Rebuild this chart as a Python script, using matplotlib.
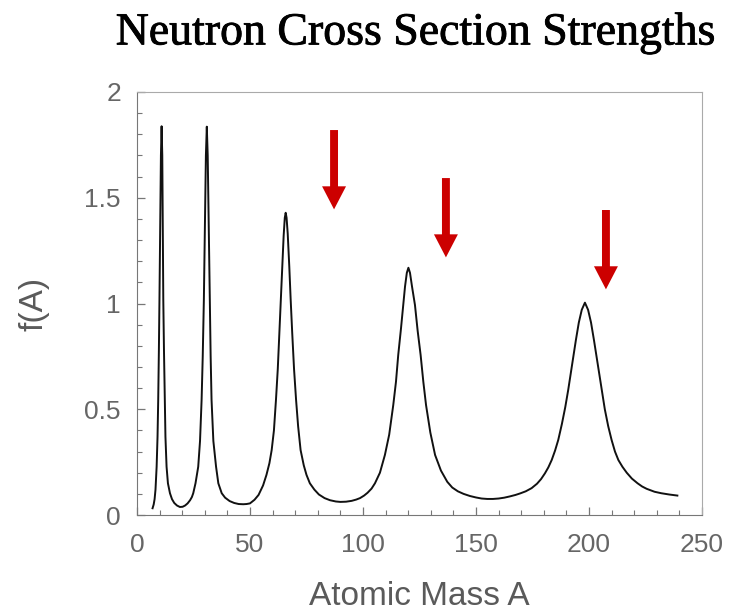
import matplotlib
matplotlib.use("Agg")
import matplotlib.pyplot as plt
import matplotlib.patheffects as pe
from matplotlib.ticker import MultipleLocator

# curve (atomic mass A, f(A))
mass = [6.9, 7.4, 7.8, 8.2, 8.7, 9.1, 9.4, 9.7, 9.95, 10.3, 10.6, 10.9, 11.2, 11.4, 11.65,
        11.95, 12.3, 12.6, 13.1, 13.7, 14.6, 15.5, 16.5, 17.7, 19.0, 20.2, 21.3, 22.4, 23.5,
        24.3, 24.9, 25.9, 27.1, 27.9, 28.6, 29.1, 29.6, 30.1, 30.5, 30.9, 31.3, 31.7, 32.2,
        32.6, 33.0, 33.8, 35.0, 36.0, 37.5, 39.0, 41.0, 43.0, 45.0, 47.0, 48.5, 50.0,
        52.0, 53.8, 55.8, 57.3, 58.6, 59.6, 60.6, 61.5, 62.3, 63.0, 63.7, 64.3, 64.9, 65.4,
        65.8, 66.2, 66.7, 67.4, 68.0, 68.7, 69.5, 70.4, 71.3, 72.4, 73.8, 75.0, 76.5, 78.5,
        80.5, 83.0, 85.4, 88.0, 90.0, 92.5, 95.0, 97.0, 98.7, 100.5, 102.0, 103.8, 105.3,
        107.5, 109.7, 111.6, 113.4, 114.6, 115.6, 116.8, 117.8, 118.6, 119.4, 120.1, 120.8,
        121.7, 123.0, 124.2, 125.5, 126.7, 127.9, 129.8, 131.9, 134.5, 137.3, 139.5, 142.0,
        144.5, 147.3, 150.0, 152.5, 155.0, 157.5, 160.0, 162.5, 165.0, 167.5, 169.5, 172.0,
        174.6, 177.0, 178.8, 180.5, 182.0, 183.5, 185.0, 186.4, 188.0, 189.5, 190.8, 192.5,
        194.2, 195.5, 196.8, 198.2, 199.6, 200.9, 202.2, 203.9, 205.6, 207.0, 208.5, 210.0,
        211.5, 213.0, 214.8, 216.7, 219.0, 221.5, 223.5, 225.5, 229.0, 232.0, 235.5, 239.1]
strength = [0.032, 0.05, 0.075, 0.12, 0.228, 0.37, 0.544, 0.78, 1.017, 1.40, 1.70, 1.838, 1.70, 1.40, 1.017,
            0.78, 0.544, 0.37, 0.228, 0.15, 0.103, 0.075, 0.057, 0.045, 0.038, 0.039, 0.045, 0.055, 0.07,
            0.085, 0.103, 0.15, 0.228, 0.35, 0.544, 0.75, 1.017, 1.40, 1.70, 1.836, 1.70, 1.40, 1.017,
            0.75, 0.544, 0.35, 0.228, 0.15, 0.103, 0.082, 0.066, 0.057, 0.052, 0.051, 0.052, 0.055,
            0.072, 0.095, 0.14, 0.19, 0.245, 0.307, 0.40, 0.544, 0.69, 0.859, 1.03, 1.174, 1.32, 1.405,
            1.429, 1.405, 1.33, 1.174, 1.02, 0.859, 0.69, 0.544, 0.42, 0.307, 0.235, 0.19, 0.150, 0.12,
            0.097, 0.080, 0.070, 0.064, 0.062, 0.063, 0.067, 0.073, 0.080, 0.092, 0.105, 0.125, 0.150,
            0.20, 0.284, 0.38, 0.52, 0.63, 0.757, 0.88, 0.993, 1.08, 1.145, 1.169, 1.145,
            1.08, 0.993, 0.87, 0.757, 0.63, 0.52, 0.39, 0.284, 0.21, 0.157, 0.13, 0.112,
            0.10, 0.090, 0.083, 0.078, 0.076, 0.076, 0.078, 0.082, 0.088, 0.095, 0.102, 0.112,
            0.127, 0.148, 0.17, 0.197, 0.225, 0.26, 0.305, 0.355, 0.43, 0.51, 0.591, 0.71,
            0.827, 0.91, 0.97, 1.004, 0.97, 0.91, 0.827, 0.71, 0.591, 0.50, 0.42, 0.355,
            0.30, 0.26, 0.228, 0.20, 0.172, 0.150, 0.135, 0.124, 0.110, 0.103, 0.097, 0.092]

# red arrows
arrow_x = [87.2, 136.7, 207.5]
arrow_top = [1.82, 1.593, 1.442]
arrow_tip = [1.445, 1.218, 1.067]

sans = ["Liberation Sans", "DejaVu Sans"]
grey = "#5a5a5a"

fig = plt.figure(figsize=(7.34, 6.14), dpi=100)
ax = fig.add_axes([0.1866, 0.1612, 0.7698, 0.689])

ax.plot(mass, strength, color="#111111", lw=1.4)

for x, top, tip in zip(arrow_x, arrow_top, arrow_tip):
    ax.arrow(x, top, 0, tip - top, width=3.5, head_width=10.6, head_length=0.109,
             length_includes_head=True, color="#cc0000", lw=0, clip_on=False)

ax.set_xlim(0, 250)
ax.set_ylim(0, 2)
ax.xaxis.set_major_locator(MultipleLocator(50))
ax.xaxis.set_minor_locator(MultipleLocator(10))
ax.yaxis.set_minor_locator(MultipleLocator(0.1))
ax.set_yticks([0, 0.5, 1, 1.5, 2])
ax.set_yticklabels(["0", "0.5", "1", "1.5", "2"])

ax.tick_params(which="both", direction="in", color="#777777", top=False, right=False)
ax.tick_params(which="major", length=6, width=0.9)
ax.tick_params(which="minor", length=3.5, width=0.8)
ax.tick_params(axis="x", pad=13, labelsize=19, labelcolor="#666666")
ax.tick_params(axis="y", pad=11.5, labelsize=19, labelcolor="#666666")
for lab in ax.get_xticklabels() + ax.get_yticklabels():
    lab.set_family(sans)

for side in ["left", "bottom"]:
    ax.spines[side].set_color("#777777")
for side in ["top", "right"]:
    ax.spines[side].set_color("#aaaaaa")

ax.set_xlabel("Atomic Mass A", fontsize=24, color=grey, family=sans)
ax.set_ylabel("f(A)", fontsize=24, color=grey, family=sans)
ax.xaxis.set_label_coords(0.5, -0.155)
ax.yaxis.set_label_coords(-0.154, 0.5)

fig.text(0.567, 0.946, "Neutron Cross Section Strengths", ha="center", va="center",
         fontsize=33, family=["Liberation Serif", "DejaVu Serif"], color="black",
         path_effects=[pe.withStroke(linewidth=0.6, foreground="black")])

fig.savefig("out.png", dpi=100)
